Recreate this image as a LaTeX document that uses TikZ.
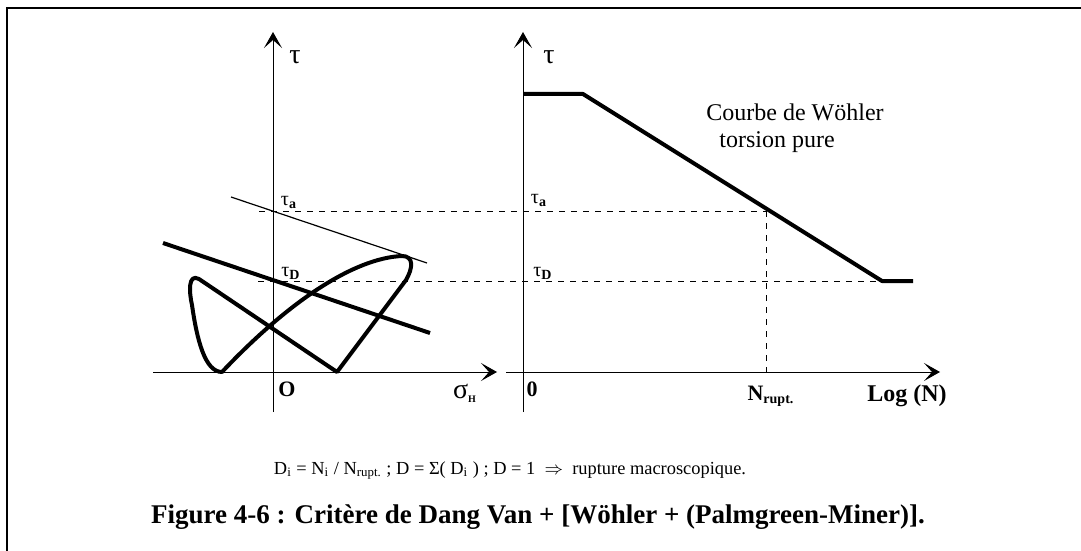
\documentclass[tikz,border=0pt]{standalone}
\usepackage{fontspec}
\setmainfont{Liberation Serif}
\usetikzlibrary{arrows.meta}

\begin{document}
\begin{tikzpicture}[x=0.5pt, y=-0.5pt,
		every node/.style={font=\fontsize{12}{14}\selectfont, inner sep=1pt},
		axis/.style={line width=0.5pt, -{Stealth[length=8pt, width=9pt, inset=4pt]}},
		guide/.style={line width=0.5pt, dash pattern=on 3pt off 3pt},
		curve/.style={line width=2pt, line join=round},
		tlbl/.style={font=\fontsize{14}{16}\selectfont},
		slbl/.style={font=\fontsize{10}{12}\selectfont},
		blbl/.style={font=\bfseries\fontsize{10}{12}\selectfont}
	]
	\useasboundingbox (0,0) rectangle (1081,551);
	% frame
	\draw[line width=1pt] (7,551) -- (7,8) -- (1081,8);

	% Dang Van diagram
	\coordinate (lBot) at (273,412);
	\coordinate (lTop) at (273,32);
	\coordinate (lLeft) at (153,372);
	\coordinate (lRight) at (497,372);
	\draw[axis] (lBot) -- (lTop);
	\draw[axis] (lLeft) -- (lRight);
	\node[tlbl] (tauL) at (295,57) {τ};
	\node[slbl] (tauaL) at (289,202) {τ\textsubscript{\bfseries a}};
	\node[slbl] (taudL) at (291,273) {τ\textsubscript{\bfseries D}};
	\node[blbl, font=\bfseries\fontsize{11}{13}\selectfont] (origL) at (287,389) {O};
	\node[tlbl] (sigH) at (465,393) {σ\textsubscript{\bfseries\tiny H}};
	\coordinate (thinA) at (231,197);
	\coordinate (thinB) at (427,263);
	\draw[line width=0.6pt] (thinA) -- (thinB);
	\coordinate (thickA) at (163,243);
	\coordinate (thickB) at (430,333);
	\draw[curve] (thickA) -- (thickB);
	% loading path
	\draw[curve] (222,372) .. controls (290,300) and (355,258) .. (402,256)
		.. controls (414,256) and (413,268) .. (406,280) -- (337,372) -- (199,279)
		.. controls (188,273) and (189,292) .. (192,305)
		.. controls (197,340) and (205,372) .. (222,372) -- cycle;

	% Woehler diagram
	\coordinate (rBot) at (523,412);
	\coordinate (rTop) at (523,32);
	\coordinate (rLeft) at (506,372);
	\coordinate (rRight) at (940,372);
	\draw[axis] (rBot) -- (rTop);
	\draw[axis] (rLeft) -- (rRight);
	\node[tlbl] (tauR) at (549,57) {τ};
	\node[slbl] (tauaR) at (539,200) {τ\textsubscript{\bfseries a}};
	\node[slbl] (taudR) at (543,273) {τ\textsubscript{\bfseries D}};
	\node[blbl, font=\bfseries\fontsize{11}{13}\selectfont] (origR) at (532,389) {0};
	\node[blbl, font=\bfseries\fontsize{11}{13}\selectfont] (nrupt) at (771,396) {N\textsubscript{\scriptsize rupt.}};
	\node[blbl, font=\bfseries\fontsize{12}{14}\selectfont] (logN) at (907,396) {Log (N)};
	\coordinate (wA) at (523,94);
	\coordinate (wB) at (583,94);
	\coordinate (wC) at (882,281);
	\coordinate (wD) at (913,281);
	\coordinate (wE) at (766,211);
	\draw[curve] (wA) -- (wB) -- (wC) -- (wD);
	\node (wlab) at (795,112) {Courbe de Wöhler};
	\node (wlab2) at (777,142) {torsion pure};

	% levels
	\coordinate (aStart) at (259,211);
	\coordinate (dStart) at (258,281);
	\draw[guide] (aStart) -- (wE);
	\draw[guide] (dStart) -- (wC);
	\draw[guide] (wE) -- (wE |- rRight);

	% damage rule and caption
	\node[font=\fontsize{9.2}{11}\selectfont] (rule) at (510,470) {D\textsubscript{i} = N\textsubscript{i} / N\textsubscript{rupt.} ; D = Σ( D\textsubscript{i} ) ; D = 1 \ $\Rightarrow$ \ rupture macroscopique.};
	\node[font=\bfseries\fontsize{13.5}{16}\selectfont] (caption) at (538,517) {Figure 4-6 : Critère de Dang Van + [Wöhler + (Palmgreen-Miner)].};
\end{tikzpicture}
\end{document}
